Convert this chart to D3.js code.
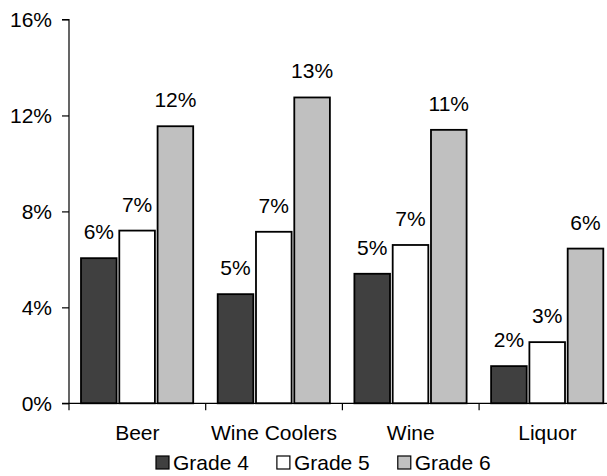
<!DOCTYPE html>
<html><head><meta charset="utf-8">
<script src="https://cdn.jsdelivr.net/npm/d3@7"></script>
<style>body{margin:0;background:#fff}svg{display:block}text{font-family:"Liberation Sans",Arial,sans-serif;fill:#000}</style>
</head><body>
<svg id="c" width="607" height="476"></svg>
<script>
const categories = ["Beer", "Wine Coolers", "Wine", "Liquor"];
const seriesNames = ["Grade 4", "Grade 5", "Grade 6"];
const grade4 = [6.05, 4.55, 5.4, 1.55];
const grade5 = [7.2, 7.15, 6.6, 2.55];
const grade6 = [11.55, 12.75, 11.4, 6.45];
const yTicks = [0, 4, 8, 12, 16];
const colors = ["#404040", "#ffffff", "#c0c0c0"];

const series = [grade4, grade5, grade6];
const svg = d3.select("#c");
const plotLeft = 69, plotTop = 19.5, plotBottom = 403.3, catW = 136.7;
const fs = 21;

const y = d3.scaleLinear().domain([0, 16]).range([plotBottom, plotTop]);
const x0 = d3.scaleBand().domain(categories).range([plotLeft, plotLeft + catW * categories.length]).padding(0);
const x1 = d3.scaleBand().domain(seriesNames).range([12, x0.bandwidth() - 12.5]).paddingInner(0.07);

// bars
const g = svg.append("g");
categories.forEach((c, ci) => {
  seriesNames.forEach((s, si) => {
    const v = series[si][ci];
    const bx = x0(c) + x1(s);
    g.append("rect")
      .attr("x", bx).attr("y", y(v))
      .attr("width", x1.bandwidth()).attr("height", y(0) - y(v))
      .attr("fill", colors[si]).attr("stroke", "#000").attr("stroke-width", 1.8);
    g.append("text")
      .attr("x", bx + x1.bandwidth() / 2).attr("y", y(v) - 19)
      .attr("text-anchor", "middle").attr("font-size", fs)
      .text(Math.round(v) + "%");
  });
});

// y axis
const yAxis = d3.axisLeft(y).tickValues(yTicks).tickSize(7).tickPadding(10).tickFormat(d => d + "%");
const ya = svg.append("g").attr("transform", `translate(${plotLeft},0)`).call(yAxis);
ya.select(".domain").attr("stroke", "#000").attr("stroke-width", 1.2).attr("d", `M-7,${plotTop}H0V${plotBottom}`);
ya.selectAll(".tick line").attr("stroke", "#000").attr("stroke-width", 1.2);
ya.selectAll(".tick text").attr("font-size", fs).attr("font-family", "Liberation Sans, Arial, sans-serif").attr("fill", "#000");

// x axis
const xa = svg.append("g").attr("transform", `translate(0,${plotBottom})`);
xa.append("line").attr("x1", plotLeft - 7).attr("x2", 607).attr("y1", 0).attr("y2", 0)
  .attr("stroke", "#000").attr("stroke-width", 1.2);
categories.forEach(c => {
  xa.append("line").attr("x1", x0(c)).attr("x2", x0(c)).attr("y1", 0).attr("y2", 7)
    .attr("stroke", "#000").attr("stroke-width", 1.2);
  xa.append("text").attr("x", x0(c) + x0.bandwidth() / 2).attr("y", 37)
    .attr("text-anchor", "middle").attr("font-size", fs).text(c);
});

// legend
const legendItems = seriesNames.map((s, i) => ({ s, c: colors[i] }));
const lg = svg.append("g").attr("transform", "translate(0,470)");
let lx = 156;
legendItems.forEach((d, i) => {
  lg.append("rect").attr("x", lx).attr("y", -14).attr("width", 13).attr("height", 13)
    .attr("fill", d.c).attr("stroke", "#000").attr("stroke-width", 1.2);
  const t = lg.append("text").attr("x", lx + 17).attr("y", 0).attr("font-size", fs).text(d.s);
  lx += 17 + t.node().getComputedTextLength() + 28;
});
</script>
</body></html>
